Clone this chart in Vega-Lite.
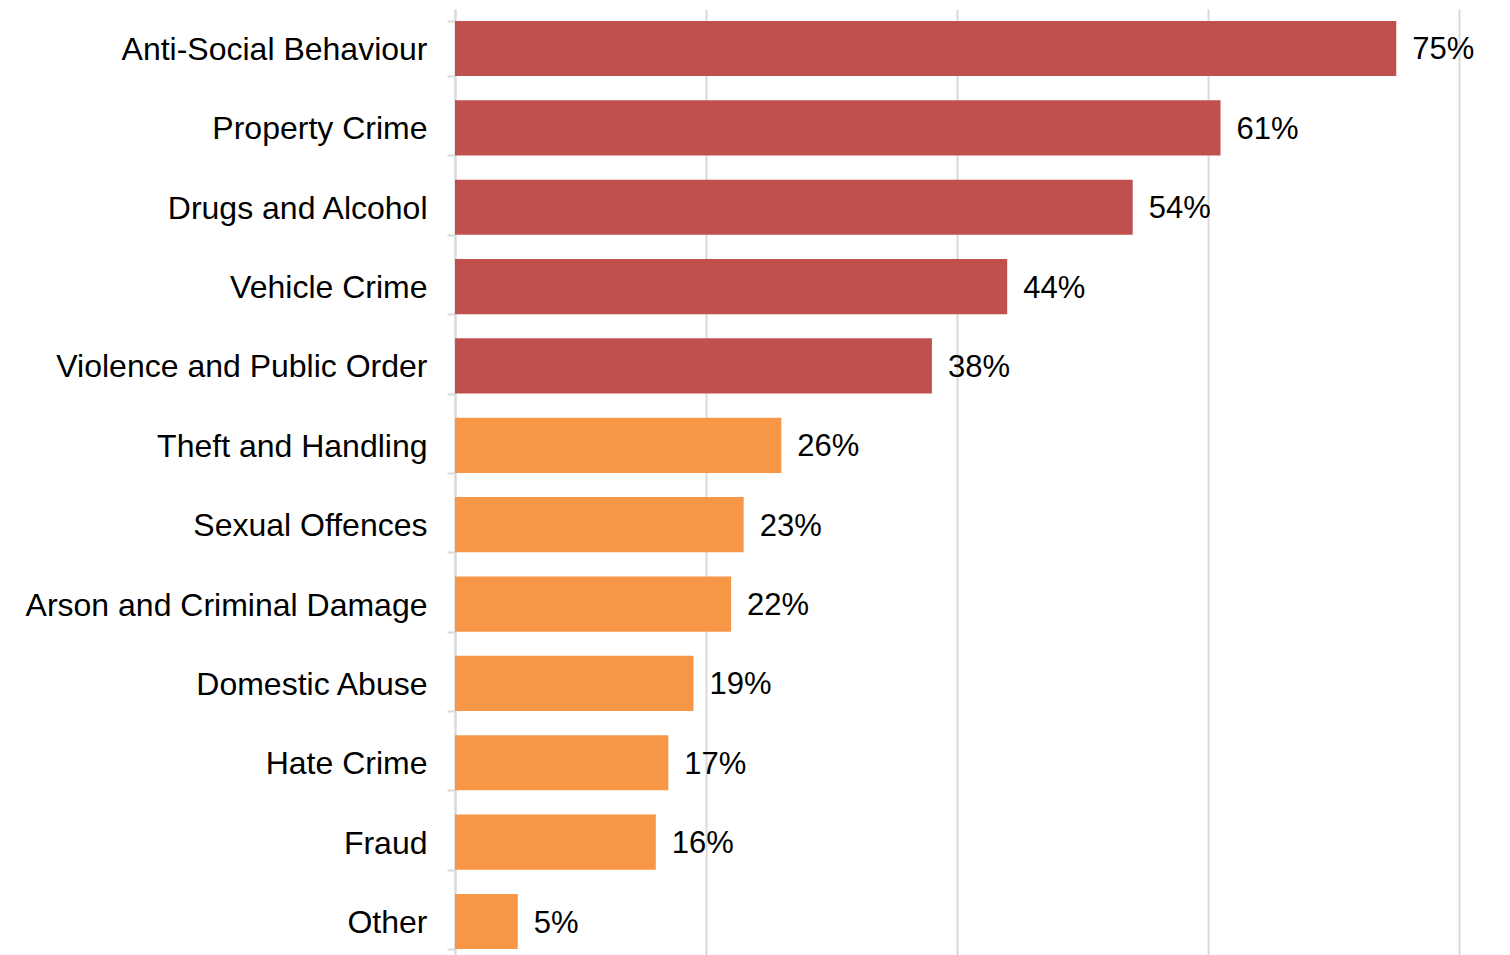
{
  "$schema": "https://vega.github.io/schema/vega-lite/v6.json",
  "autosize": "none",
  "width": 1004,
  "height": 952,
  "padding": {"left": 455, "top": 9, "right": 51, "bottom": 0},
  "background": "white",
  "config": {"view": {"stroke": null}, "font": "Liberation Sans"},
  "data": {"values": [
    {"category": "Anti-Social Behaviour", "value": 0.75, "group": "top"},
    {"category": "Property Crime", "value": 0.61, "group": "top"},
    {"category": "Drugs and Alcohol", "value": 0.54, "group": "top"},
    {"category": "Vehicle Crime", "value": 0.44, "group": "top"},
    {"category": "Violence and Public Order", "value": 0.38, "group": "top"},
    {"category": "Theft and Handling", "value": 0.26, "group": "other"},
    {"category": "Sexual Offences", "value": 0.23, "group": "other"},
    {"category": "Arson and Criminal Damage", "value": 0.22, "group": "other"},
    {"category": "Domestic Abuse", "value": 0.19, "group": "other"},
    {"category": "Hate Crime", "value": 0.17, "group": "other"},
    {"category": "Fraud", "value": 0.16, "group": "other"},
    {"category": "Other", "value": 0.05, "group": "other"}
  ]},
  "encoding": {
    "y": {
      "field": "category", "type": "nominal", "sort": null,
      "scale": {"paddingInner": 0.305, "paddingOuter": 0.15},
      "axis": {
        "title": null, "tickBand": "extent", "domainColor": "#d9d9d9", "domainWidth": 2,
        "tickColor": "#d9d9d9", "tickWidth": 2, "tickSize": 8, "labelPadding": 20,
        "labelFontSize": 32, "labelColor": "#000000", "labelFont": "Liberation Sans", "labelLimit": 600,
        "labelOffset": 1
      }
    },
    "x": {
      "field": "value", "type": "quantitative",
      "scale": {"domain": [0, 0.8], "nice": false},
      "axis": {
        "title": null, "labels": false, "ticks": false, "domain": false,
        "values": [0, 0.2, 0.4, 0.6, 0.8], "grid": true, "gridColor": "#d9d9d9", "gridWidth": 2
      }
    }
  },
  "layer": [
    {
      "mark": {"type": "bar"},
      "encoding": {
        "color": {
          "field": "group", "type": "nominal",
          "scale": {"domain": ["top", "other"], "range": ["#C0504D", "#F79646"]},
          "legend": null
        }
      }
    },
    {
      "mark": {"type": "text", "align": "left", "baseline": "middle", "dx": 16, "dy": 2, "fontSize": 31, "font": "Liberation Sans", "color": "#000000"},
      "encoding": {"text": {"field": "value", "type": "quantitative", "format": ".0%"}}
    }
  ]
}
